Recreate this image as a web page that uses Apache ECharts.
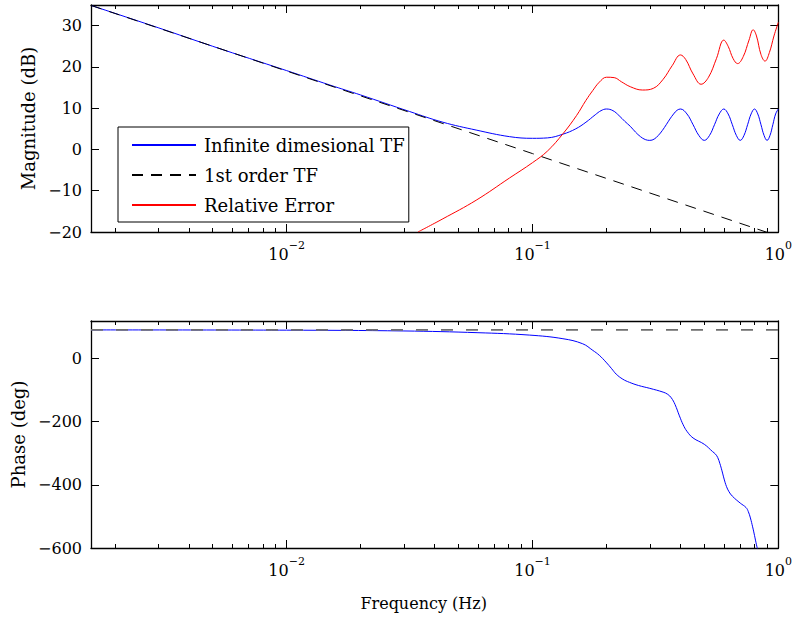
<!DOCTYPE html>
<html>
<head>
<meta charset="utf-8">
<script src="https://cdn.jsdelivr.net/npm/echarts@6/dist/echarts.min.js"></script>
<style>
html, body { margin: 0; padding: 0; background: #fff; }
#bode { width: 795px; height: 617px; }
</style>
</head>
<body>
<div id="bode"></div>
<script>
// magnitude of the infinite dimensional TF (dB)
var magFreq = [0.0016, 0.003, 0.005, 0.01, 0.015, 0.02, 0.0316, 0.0432, 0.059, 0.0807,
  0.1, 0.115, 0.133, 0.15, 0.165, 0.18, 0.19, 0.2, 0.2125, 0.225, 0.2375, 0.25, 0.2625,
  0.275, 0.2875, 0.3, 0.3125, 0.325, 0.3375, 0.35, 0.3625, 0.375, 0.3875, 0.4,
  0.425, 0.45, 0.475, 0.5, 0.525, 0.55, 0.575, 0.6, 0.625, 0.65, 0.675, 0.7,
  0.725, 0.75, 0.775, 0.8, 0.825, 0.85, 0.875, 0.9, 0.925, 0.95, 0.975, 1.0];
var magInf = [34.9, 29.5, 25.0, 19.1, 15.6, 13.2, 9.2, 6.6, 4.7, 3.1,
  2.7, 2.8, 3.7, 5.0, 6.6, 8.4, 9.4, 9.8, 9.4, 8.2, 6.8, 5.6, 4.2,
  3.1, 2.4, 2.2, 2.5, 3.4, 4.6, 6.0, 7.4, 8.6, 9.5, 9.8,
  8.6, 6.0, 3.4, 2.2, 3.4, 6.0, 8.6, 9.8, 8.6, 6.0, 3.4, 2.2,
  3.4, 6.0, 8.6, 9.8, 8.6, 6.0, 3.4, 2.2, 3.4, 6.0, 8.6, 9.8];

// 1st order TF
var firstFreq = [0.0016, 0.01, 0.1, 1.0];
var magFirst = [34.9, 19.0, -1.0, -21.0];
var phaseFirstFreq = [0.0016, 1.0];
var phaseFirst = [90, 90];

// relative error (dB)
var errFreq = [0.0342, 0.0432, 0.059, 0.0807, 0.1, 0.115, 0.133, 0.151, 0.165, 0.176,
  0.187, 0.2, 0.215, 0.23, 0.25, 0.28, 0.31, 0.34, 0.37, 0.4, 0.42, 0.45, 0.485,
  0.52, 0.56, 0.6, 0.625, 0.655, 0.683, 0.72, 0.76, 0.79, 0.815, 0.85, 0.883,
  0.92, 0.96, 1.0];
var magErr = [-20.0, -16.8, -12.3, -6.9, -3.2, -0.4, 3.8, 8.2, 11.9, 14.3,
  16.3, 17.5, 17.4, 16.4, 15.2, 14.4, 14.8, 17.0, 20.3, 22.9, 21.8, 18.3, 15.8,
  17.5, 22.0, 26.5, 25.0, 22.0, 20.8, 22.5, 26.5, 29.0, 27.5, 23.0, 21.4,
  23.5, 27.5, 30.8];

// phase of the infinite dimensional TF (deg)
var phaseFreq = [0.0016, 0.01, 0.03, 0.06, 0.097, 0.133, 0.16, 0.176, 0.187, 0.199,
  0.21, 0.219, 0.233, 0.248, 0.27, 0.3, 0.34, 0.355, 0.367, 0.38, 0.396, 0.41, 0.425, 0.45,
  0.5, 0.54, 0.555, 0.567, 0.578, 0.59, 0.602, 0.615, 0.63, 0.65, 0.7, 0.739, 0.755, 0.77,
  0.786, 0.8, 0.815, 0.83];
var phaseInf = [89.8, 89.0, 86.5, 81.0, 73.5, 62.0, 46.0, 25.0, 9.5, -12.0,
  -33.0, -50.0, -66.0, -76.0, -86.0, -95.0, -107.0, -114.0, -125.0, -146.0, -182.0, -210.0, -231.0, -252.0,
  -272.0, -295.0, -303.0, -314.0, -332.0, -356.0, -382.0, -405.0, -422.0, -436.0, -458.0, -472.0, -485.0, -505.0,
  -533.0, -560.0, -590.0, -615.0];

var minorTicks = [0.002, 0.003, 0.004, 0.005, 0.006, 0.007, 0.008, 0.009,
  0.02, 0.03, 0.04, 0.05, 0.06, 0.07, 0.08, 0.09,
  0.2, 0.3, 0.4, 0.5, 0.6, 0.7, 0.8, 0.9];

var names = ['Infinite dimesional TF', '1st order TF', 'Relative Error'];

function pairs(xs, ys) {
  return xs.map(function (x, i) { return [x, ys[i]]; });
}

var font = "'DejaVu Serif', serif";
var fMin = 0.0016, fMax = 1;

function minus(v) { return String(v).replace('-', '\u2212'); }

function powLabel(v) {
  var e = Math.round(Math.log(v) / Math.LN10);
  return '{b|10}{s|' + minus(e) + '}';
}

function xAxes(grid, top) {
  var pos = top ? 'top' : 'bottom';
  return [
    {
      type: 'log', logBase: 10, gridIndex: grid, position: pos, min: fMin, max: fMax,
      axisLine: { show: true, onZero: false, lineStyle: { color: '#000', width: 1.3 } },
      axisTick: { show: true, inside: true, length: 8, lineStyle: { color: '#000', width: 1 } },
      splitLine: { show: false },
      axisLabel: {
        show: !top, showMinLabel: false, margin: 8, formatter: powLabel,
        fontFamily: font,
        rich: {
          b: { fontFamily: font, fontSize: 16, color: '#000', lineHeight: 22, verticalAlign: 'bottom' },
          s: { fontFamily: font, fontSize: 11, color: '#000', lineHeight: 13, verticalAlign: 'top' }
        }
      }
    },
    {
      // minor ticks (2..9 x 10^k), placed on a log10 value axis
      type: 'value', gridIndex: grid, position: pos,
      min: Math.log10(fMin), max: Math.log10(fMax),
      axisLine: { show: false, onZero: false },
      axisTick: {
        show: true, inside: true, length: 4,
        customValues: minorTicks.map(function (v) { return Math.log10(v); }),
        lineStyle: { color: '#000', width: 1 }
      },
      splitLine: { show: false },
      axisLabel: { show: false }
    }
  ];
}

function yAxis(grid, right, min, max, interval) {
  return {
    type: 'value', gridIndex: grid, position: right ? 'right' : 'left',
    min: min, max: max, interval: interval,
    axisLine: { show: true, onZero: false, lineStyle: { color: '#000', width: 1.3 } },
    axisTick: { show: true, inside: true, length: 8, lineStyle: { color: '#000', width: 1 } },
    splitLine: { show: false },
    axisLabel: {
      show: !right, showMaxLabel: false, margin: 9, formatter: minus,
      fontFamily: font, fontSize: 16, color: '#000'
    }
  };
}

function buildOption(plain) {
  var xs = [].concat(xAxes(0, false), xAxes(0, true), xAxes(1, false), xAxes(1, true));
  var ys = [
    yAxis(0, false, -20, 35, 10),
    yAxis(0, true, -20, 35, 10),
    yAxis(1, false, -600, 118, 200),
    yAxis(1, true, -600, 118, 200)
  ];
  ys[0].name = 'Magnitude (dB)';
  ys[0].nameLocation = 'middle';
  ys[0].nameGap = 47;
  ys[0].nameTextStyle = { fontFamily: font, fontSize: 18, color: '#000' };
  if (plain < 2) {
    xs[4].name = 'Frequency (Hz)';
    xs[4].nameLocation = 'middle';
    xs[4].nameGap = 47;
    xs[4].nameTextStyle = { fontFamily: font, fontSize: 16, color: '#000', padding: [0, 22, 0, 0] };
    ys[2].name = 'Phase (deg)';
    ys[2].nameLocation = 'middle';
    ys[2].nameGap = 56;
    ys[2].nameTextStyle = { fontFamily: font, fontSize: 18, color: '#000' };
  }
  var legend = {
    data: names, orient: 'vertical', left: 118, top: 127,
    borderColor: '#000', borderWidth: 1, backgroundColor: '#fff',
    itemStyle: { opacity: 0 },
    textStyle: { fontFamily: font, fontSize: 18, color: '#000' }
  };
  if (plain < 1) {
    legend.padding = [9, 4, 8, 13];
    legend.itemGap = 12;
    legend.itemWidth = 64;
    legend.itemHeight = 18;
    legend.borderRadius = 0;
    legend.selectedMode = false;
    legend.textStyle.padding = [0, 0, 0, 3];
  }
  var sm = plain < 3 ? 0.4 : false;
  return {
    animation: false,
    backgroundColor: '#fff',
    textStyle: { fontFamily: font },
    grid: [
      { left: 91, right: 16, top: 5, height: 227 },
      { left: 91, right: 16, top: 321, height: 227 }
    ],
    xAxis: xs,
    yAxis: ys,
    legend: legend,
    series: [
      {
        name: names[0], type: 'line', xAxisIndex: 0, yAxisIndex: 0,
        data: pairs(magFreq, magInf), symbol: 'none', smooth: sm,
        lineStyle: { color: '#0000ff', width: 1 }, itemStyle: { color: '#0000ff' }
      },
      {
        name: names[1], type: 'line', xAxisIndex: 0, yAxisIndex: 0,
        data: pairs(firstFreq, magFirst), symbol: 'none',
        lineStyle: { color: '#000', width: 1, type: [11, 8] }, itemStyle: { color: '#000' }
      },
      {
        name: names[2], type: 'line', xAxisIndex: 0, yAxisIndex: 0,
        data: pairs(errFreq, magErr), symbol: 'none', smooth: sm,
        lineStyle: { color: '#ff0000', width: 1 }, itemStyle: { color: '#ff0000' }
      },
      {
        name: names[0], type: 'line', xAxisIndex: 4, yAxisIndex: 2,
        data: pairs(phaseFreq, phaseInf), symbol: 'none', smooth: sm,
        lineStyle: { color: '#0000ff', width: 1 }, itemStyle: { color: '#0000ff' }
      },
      {
        name: names[1], type: 'line', xAxisIndex: 4, yAxisIndex: 2,
        data: pairs(phaseFirstFreq, phaseFirst), symbol: 'none',
        lineStyle: { color: '#6e6e6e', width: 1.8, type: [12, 13] }, itemStyle: { color: '#6e6e6e' }
      }
    ]
  };
}

// count the short tick strokes an option produces, to make sure they survive
function tickCount(opt) {
  var d = document.createElement('div');
  d.style.cssText = 'position:absolute;left:-3000px;top:0;width:795px;height:617px';
  document.body.appendChild(d);
  var c = echarts.init(d);
  var n = 0;
  try {
    c.setOption(opt);
    c.getZr().storage.getDisplayList(true).forEach(function (el) {
      if (el.type === 'line' && !el.ignore && !el.invisible) {
        var s = el.shape;
        if (Math.abs(s.x2 - s.x1) + Math.abs(s.y2 - s.y1) <= 9) n++;
      }
    });
  } catch (e) { n = -1; }
  c.dispose();
  document.body.removeChild(d);
  return n;
}

var level = 0;
while (level < 3 && tickCount(buildOption(level)) < 100) level++;

var chart = echarts.init(document.getElementById('bode'), null, { renderer: 'svg' });
chart.setOption(buildOption(level));
window.addEventListener('resize', function () { chart.resize(); });
</script>
</body>
</html>
